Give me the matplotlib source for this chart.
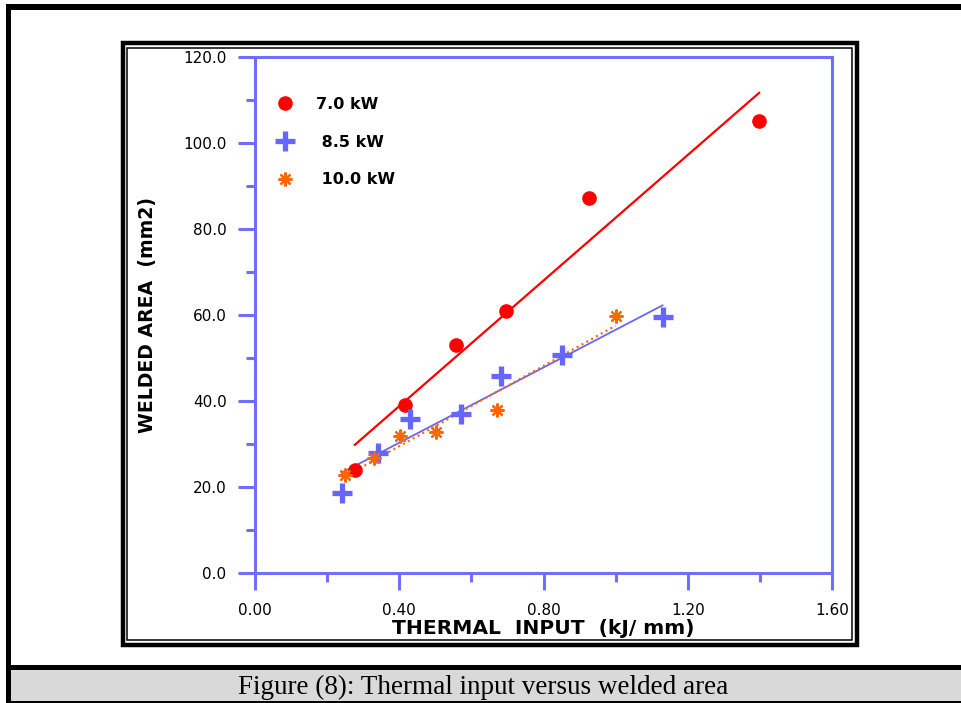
import numpy as np
import matplotlib
matplotlib.use("Agg")
import matplotlib.pyplot as plt
from matplotlib.patches import Rectangle

# ---- data ----
x_70 = [0.277, 0.417, 0.557, 0.697, 0.926, 1.398]
y_70 = [24.0, 39.1, 53.1, 61.0, 87.2, 105.1]
x_85 = [0.240, 0.342, 0.431, 0.571, 0.681, 0.850, 1.130]
y_85 = [18.7, 27.8, 35.8, 36.9, 45.8, 50.7, 59.6]
x_100 = [0.250, 0.331, 0.402, 0.502, 0.670, 1.000]
y_100 = [22.9, 26.8, 31.9, 32.9, 37.9, 59.8]
series_labels = ["7.0 kW", " 8.5 kW", " 10.0 kW"]
x_ticks = [0.0, 0.4, 0.8, 1.2, 1.6]
x_tick_labels = ["0.00", "0.40", "0.80", "1.20", "1.60"]
y_ticks = [0, 20, 40, 60, 80, 100, 120]
y_tick_labels = ["0.0", "20.0", "40.0", "60.0", "80.0", "100.0", "120.0"]
x_label = "THERMAL  INPUT  (kJ/ mm)"
y_label = "WELDED AREA  (mm2)"
caption = "Figure (8): Thermal input versus welded area"

W, H = 961, 703
fig = plt.figure(figsize=(W / 100, H / 100), dpi=100)

def fx(px):
    return px / W

def fy(py):
    return 1 - py / H

AX_COL = "#6e6eff"
RED = "#ff0000"
BLUE = "#6666ff"
ORANGE = "#ff6600"

ax = fig.add_axes([fx(255), fy(573), fx(832) - fx(255), fy(57) - fy(573)])
ax.set_xlim(0, 1.6)
ax.set_ylim(0, 120)

for s in ax.spines.values():
    s.set_color(AX_COL)
    s.set_linewidth(2.2)

ax.set_xticks(x_ticks)
ax.set_xticklabels(x_tick_labels)
ax.set_xticks([0.2, 0.6, 1.0, 1.4], minor=True)
ax.set_yticks(y_ticks)
ax.set_yticklabels(y_tick_labels)
ax.set_yticks([10, 30, 50, 70, 90, 110], minor=True)
ax.tick_params(which="major", length=12, width=2.2, color=AX_COL,
               labelsize=11, labelfontfamily="DejaVu Sans")
ax.tick_params(axis="x", which="major", pad=9.5)
ax.tick_params(axis="y", which="major", pad=8.5)
ax.tick_params(which="minor", length=6.5, width=2.2, color=AX_COL)
ax.tick_params(axis="y", which="both", right=False)
ax.tick_params(axis="x", which="both", top=False)

ax.set_xlabel(x_label, fontsize=14.6, fontweight="bold", family="DejaVu Sans", labelpad=1)
ax.set_ylabel(y_label, fontsize=13.6, fontweight="bold", family="DejaVu Sans", labelpad=19)

# fit lines
for xs, ys, col, ls, lw in [(x_70, y_70, RED, "-", 1.6),
                            (x_85, y_85, BLUE, "-", 1.3),
                            (x_100, y_100, ORANGE, ":", 1.5)]:
    xs = np.array(xs)
    k, b = np.polyfit(xs, np.array(ys), 1)
    xx = np.array([xs.min(), xs.max()])
    ax.plot(xx, k * xx + b, color=col, ls=ls, lw=lw, zorder=2)

h1, = ax.plot(x_70, y_70, "o", color=RED, ms=9.5, mec=RED, ls="none", zorder=3)
h2, = ax.plot(x_85, y_85, "+", color=BLUE, ms=14.5, mew=3.8, ls="none", zorder=3)
h3, = ax.plot(x_100, y_100, marker=(8, 2, 0), color=ORANGE, ms=10, mew=1.6, ls="none", zorder=3)

leg = ax.legend([h1, h2, h3], series_labels, loc="upper left",
                bbox_to_anchor=(0.025, 0.935), frameon=False,
                prop={"family": "DejaVu Sans", "weight": "bold", "size": 11.5},
                labelspacing=1.42, handletextpad=1.3, handlelength=1.2,
                borderaxespad=0)

# decorative frames
def rect(x0, y0, x1, y1, **kw):
    r = Rectangle((fx(x0), fy(y1)), fx(x1) - fx(x0), fy(y0) - fy(y1),
                  transform=fig.transFigure, **kw)
    fig.add_artist(r)

# outer border (top and left)
rect(6, 4, 961, 10, color="black", lw=0)
rect(6, 4, 11, 703, color="black", lw=0)
# inner double frame
rect(123, 43, 856.7, 645.2, fill=False, ec="black", lw=3.2)
rect(127.5, 48.3, 851.7, 639.9, fill=False, ec="black", lw=1.1)
# caption box
rect(11, 665, 961, 670, color="black", lw=0)
rect(11, 670, 961, 701, color="#d9d9d9", lw=0)
rect(11, 701, 961, 703, color="black", lw=0)
fig.text(fx(483), fy(687), caption, ha="center", va="center",
         family="Liberation Serif", fontsize=19.5)

fig.savefig("out.png", dpi=100)
